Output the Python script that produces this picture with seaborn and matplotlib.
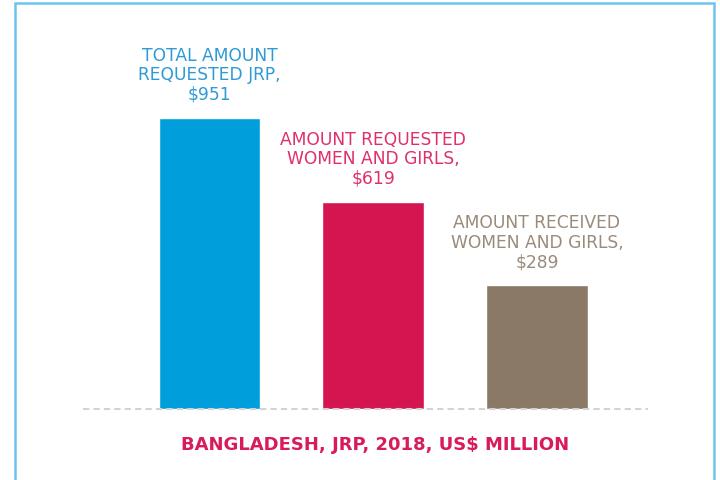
import matplotlib.pyplot as plt
import seaborn as sns
import pandas as pd
from matplotlib.patches import Rectangle

# values shown on the chart (US$ million)
categories = ['Total requested JRP', 'Requested women and girls', 'Received women and girls']
amounts = [951, 619, 289]
labels = ['TOTAL AMOUNT\nREQUESTED JRP,\n$951',
          'AMOUNT REQUESTED\nWOMEN AND GIRLS,\n$619',
          'AMOUNT RECEIVED\nWOMEN AND GIRLS,\n$289']
bar_colors = ['#009EDB', '#D5154F', '#8A7966']
text_colors = ['#2E9AD6', '#E0306A', '#9A8B7A']

# the original bars are not drawn from zero, they sit on a raised baseline
BASE = 200

df = pd.DataFrame({'category': categories,
                   'height': [a + BASE for a in amounts]})

sns.set_style('white')
fig = plt.figure(figsize=(7.2, 4.81), dpi=100)
W, H = 720, 481

# axes placed so the baseline sits at y=410 px and bars land in the right spots
ax = fig.add_axes([83 / W, (H - 410) / H, 565 / W, 400 / H])
sns.barplot(data=df, x='category', y='height', hue='category',
            palette=bar_colors, width=0.62, saturation=1, legend=False, ax=ax)

ax.set_xlim(-0.772, 2.678)
ax.set_ylim(0, (amounts[0] + BASE) * 400 / 291)
ax.axhline(0, color='#D3D3D3', linestyle=(0, (3, 2)), linewidth=1.5, clip_on=False)
ax.axis('off')

for i, (lab, c) in enumerate(zip(labels, text_colors)):
    ax.annotate(lab, xy=(i, amounts[i] + BASE), xytext=(0, 11),
                textcoords='offset points', ha='center', va='bottom',
                color=c, fontsize=12.3, linespacing=1.1)

fig.text(375 / W, 1 - 445 / H, 'BANGLADESH, JRP, 2018, US$ MILLION',
         ha='center', va='center', color='#D81B5A', fontsize=13, fontweight='bold')

# light blue frame around the panel
fig.patches.append(Rectangle((15 / W, -0.05), 699 / W, 1.05 - 4 / H,
                             transform=fig.transFigure, fill=False,
                             edgecolor='#6CC4EE', linewidth=1.8))

plt.savefig('out.png', dpi=100)
